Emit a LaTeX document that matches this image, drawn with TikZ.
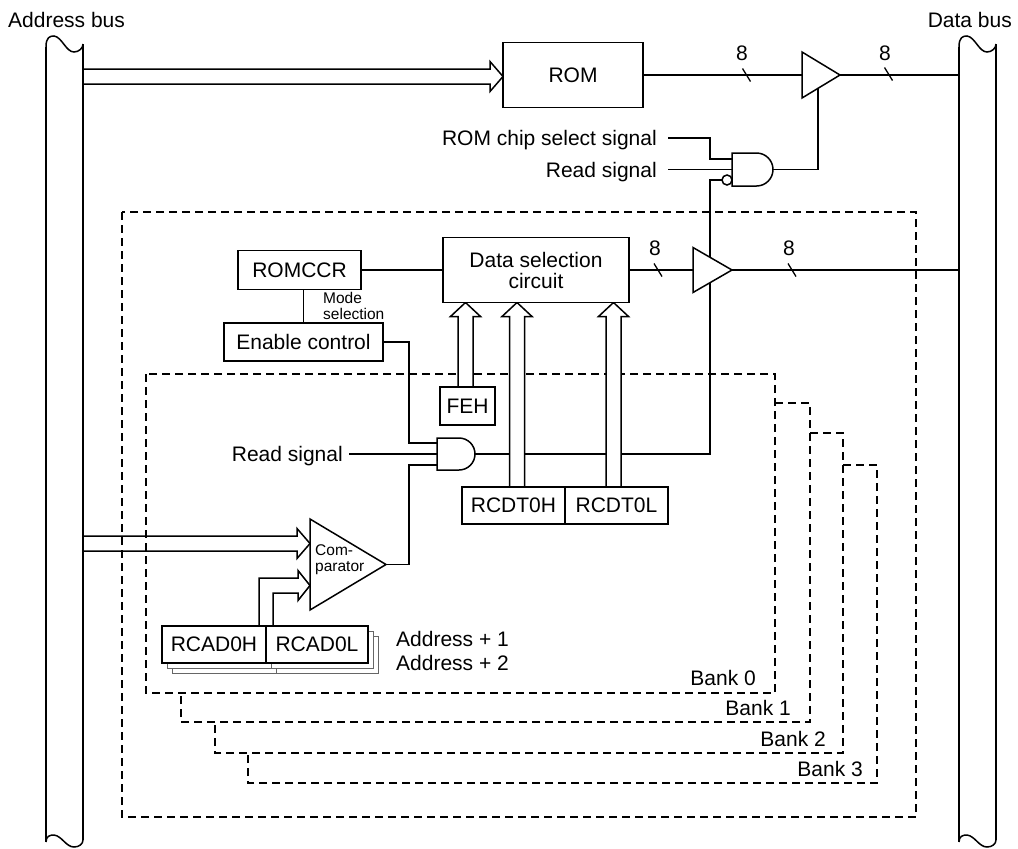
\documentclass[tikz,border=0pt]{standalone}
\usepackage{fontspec}
\setmainfont{Liberation Sans}
\pgfdeclarelayer{wires}
\pgfdeclarelayer{arrows}
\pgfsetlayers{wires,arrows,main}
\newcommand\hollowup[3]{%
  \fill[white] ({#1-7.5},{#2-0.8}) -- ({#1-7.5},{#3+14}) -- ({#1-15},{#3+14}) -- (#1,#3) -- ({#1+15},{#3+14}) -- ({#1+7.5},{#3+14}) -- ({#1+7.5},{#2-0.8}) -- cycle;
  \draw ({#1-7.5},#2) -- ({#1-7.5},{#3+14}) -- ({#1-15},{#3+14}) -- (#1,#3) -- ({#1+15},{#3+14}) -- ({#1+7.5},{#3+14}) -- ({#1+7.5},#2);}
\newcommand\hollowright[3]{%
  \draw (#2,{#1-7.5}) -- ({#3-13},{#1-7.5}) -- ({#3-13},{#1-15}) -- (#3,#1) -- ({#3-13},{#1+15}) -- ({#3-13},{#1+7.5}) -- (#2,{#1+7.5});}
\begin{document}
\begin{tikzpicture}[x=1pt,y=-1pt,line width=1.5pt,
  txt/.style={inner sep=0pt,font=\fontsize{21}{21}\selectfont},
  sml/.style={inner sep=0pt,font=\fontsize{15.5}{16}\selectfont},
  box/.style={draw,fill=white,inner sep=0pt,font=\fontsize{21}{21}\selectfont,align=center},
  shadowbox/.style={draw=black!60,line width=1pt,fill=white},
  bankline/.style={dash pattern=on 8pt off 5pt},
  slashmark/.style={line width=1.3pt},
  elem/.style={draw,fill=white}]
\useasboundingbox (0,0) rectangle (1018,849);

% ---------- boxes ----------
\node[box,minimum width=140pt,minimum height=65pt] (rom) at (573,75) {ROM};
\node[box,minimum width=123pt,minimum height=39pt] (romccr) at (299.5,270) {ROMCCR};
\node[box,minimum width=159pt,minimum height=38pt] (enable) at (303.5,342) {Enable control};
\node[box,minimum width=186pt,minimum height=65pt] (datasel) at (536,270) {Data selection\\circuit};
\node[box,minimum width=55pt,minimum height=38pt] (feh) at (467.5,406) {FEH};
\node[box,minimum width=103pt,minimum height=37pt] (rcdth) at (513.5,505.5) {RCDT0H};
\node[box,minimum width=103pt,minimum height=37pt] (rcdtl) at (616.5,505.5) {RCDT0L};
% shadows of RCAD registers
\draw[shadowbox] (172,636) rectangle (378,673);
\draw[shadowbox] (276,636) -- (276,673);
\draw[shadowbox] (167,631) rectangle (373,668);
\draw[shadowbox] (271,631) -- (271,668);
\node[box,minimum width=104pt,minimum height=37pt] (rcadh) at (214,644.5) {RCAD0H};
\node[box,minimum width=102pt,minimum height=37pt] (rcadl) at (317,644.5) {RCAD0L};

% ---------- buffers, gates, comparator ----------
\draw[elem] (802,52) -- (840,75) -- (802,98) -- cycle;
\coordinate (b1in) at (802,75); \coordinate (b1out) at (840,75); \coordinate (b1en) at (818,75);
\draw[elem] (693,247.5) -- (732,270) -- (693,292.5) -- cycle;
\coordinate (b2in) at (693,270); \coordinate (b2out) at (732,270); \coordinate (b2en) at (710,270);
\draw[elem] (732,153) -- (756.5,153) arc[start angle=90,end angle=-90,radius=16.5pt] -- (732,186) -- cycle;
\draw[elem] (727,180) circle[radius=5pt];
\coordinate (g1a) at (732,159); \coordinate (g1b) at (732,169.5); \coordinate (g1c) at (722,180); \coordinate (g1out) at (773,169.5);
\draw[elem] (437,438) -- (459,438) arc[start angle=90,end angle=-90,radius=16pt] -- (437,470) -- cycle;
\coordinate (g2a) at (437,443); \coordinate (g2b) at (437,454); \coordinate (g2c) at (437,465); \coordinate (g2out) at (475,454);
\draw[elem] (310,519) -- (386,564.5) -- (310,610) -- cycle;
\coordinate (cmpout) at (386,564.5);

% ---------- data bus taps ----------
\coordinate (db1) at (959,75); \coordinate (db2) at (959,270);

% ---------- wires ----------
\begin{pgfonlayer}{wires}
\begin{scope}[line width=1.5pt]
% bank frames
\draw[bankline] (122,212) rectangle (916,817);
\draw[bankline] (146,374) rectangle (775,693);
\draw[bankline] (775,403) -- (810,403) -- (810,722) -- (181,722) -- (181,693);
\draw[bankline] (810,433) -- (843,433) -- (843,753) -- (215,753) -- (215,722);
\draw[bankline] (843,465) -- (877,465) -- (877,783) -- (248,783) -- (248,753);
% address bus
\draw (46,47) -- (46,842);
\draw (83,44) -- (83,840);
\draw (46,47) .. controls (46,37) and (50,36) .. (54,36) .. controls (62,37) and (66,52) .. (74,52) .. controls (79,52) and (83,48) .. (83,44);
\draw (46,842) .. controls (46,836) and (50,835) .. (54,835) .. controls (62,836) and (66,847) .. (74,847) .. controls (79,847) and (83,844) .. (83,840);
% data bus
\begin{scope}[xshift=913pt]
\draw (46,47) -- (46,842);
\draw (83,44) -- (83,840);
\draw (46,47) .. controls (46,37) and (50,36) .. (54,36) .. controls (62,37) and (66,52) .. (74,52) .. controls (79,52) and (83,48) .. (83,44);
\draw (46,842) .. controls (46,836) and (50,835) .. (54,835) .. controls (62,836) and (66,847) .. (74,847) .. controls (79,847) and (83,844) .. (83,840);
\end{scope}
% ROM path
\draw (rom.east) -- (b1in);
\draw (b1out) -- (db1);
\draw (g1out) -| (b1en);
\draw (668,138) -- (710,138) |- (g1a);
\draw (668,169.5) -- (g1b);
% data selection path
\draw (romccr.east) -- (datasel.west);
\draw (enable.north) -- (enable.north |- romccr.south);
\draw (datasel.east) -- (b2in);
\draw (b2out) -- (db2);
\draw (g2out) -- (710,454) -- (b2en) -- (710,180) -- (g1c);
\draw (enable.east) -- (409,342) |- (g2a);
\draw (349,454) -- (g2b);
\draw (cmpout) -- (409,564.5) |- (g2c);
% bus width marks
\draw[slashmark] (742.5,68.5) -- (750.5,81.5);
\draw[slashmark] (884.5,67.5) -- (892.5,80.5);
\draw[slashmark] (654,263.5) -- (662,276.5);
\draw[slashmark] (788,263.5) -- (796,276.5);
\end{scope}
\end{pgfonlayer}

% ---------- hollow (bus) arrows ----------
\begin{pgfonlayer}{arrows}
\begin{scope}[line width=1.5pt]
\hollowright{76.5}{83}{503}
\hollowright{543.5}{83}{310}
\draw (259,626) |- (298,578) -- (298,570.5) -- (310,585.5) -- (298,600.5) -- (298,593) -| (273,626);
\hollowup{465.5}{387}{302.5}
\hollowup{517}{487}{302.5}
\hollowup{613.5}{487}{302.5}
\end{scope}
\end{pgfonlayer}

% ---------- texts ----------
\node[txt,anchor=base west] (lab) at (8,27) {Address bus};
\node[txt,anchor=base east] (ldb) at (1012,27) {Data bus};
\node[txt,anchor=base east] (lcs) at (657,145.5) {ROM chip select signal};
\node[txt,anchor=base east] (lrd1) at (657,177) {Read signal};
\node[txt,anchor=base east] (lrd2) at (343,461.5) {Read signal};
\node[txt,anchor=base] (n1) at (742,60) {8};
\node[txt,anchor=base] (n2) at (885,60) {8};
\node[txt,anchor=base] (n3) at (655,255) {8};
\node[txt,anchor=base] (n4) at (789,255) {8};
\node[sml,anchor=base west] (lm1) at (323,303) {Mode};
\node[sml,anchor=base west] (lm2) at (323,319) {selection};
\node[sml,anchor=base west] (lc1) at (315,555) {Com-};
\node[sml,anchor=base west] (lc2) at (315,571) {parator};
\node[txt,anchor=base west] (la1) at (396,646) {Address + 1};
\node[txt,anchor=base west] (la2) at (396,670) {Address + 2};
\node[txt,anchor=base east] (lb0) at (756,685) {Bank 0};
\node[txt,anchor=base east] (lb1) at (791,715) {Bank 1};
\node[txt,anchor=base east] (lb2) at (826,746) {Bank 2};
\node[txt,anchor=base east] (lb3) at (863,776) {Bank 3};
\end{tikzpicture}
\end{document}
